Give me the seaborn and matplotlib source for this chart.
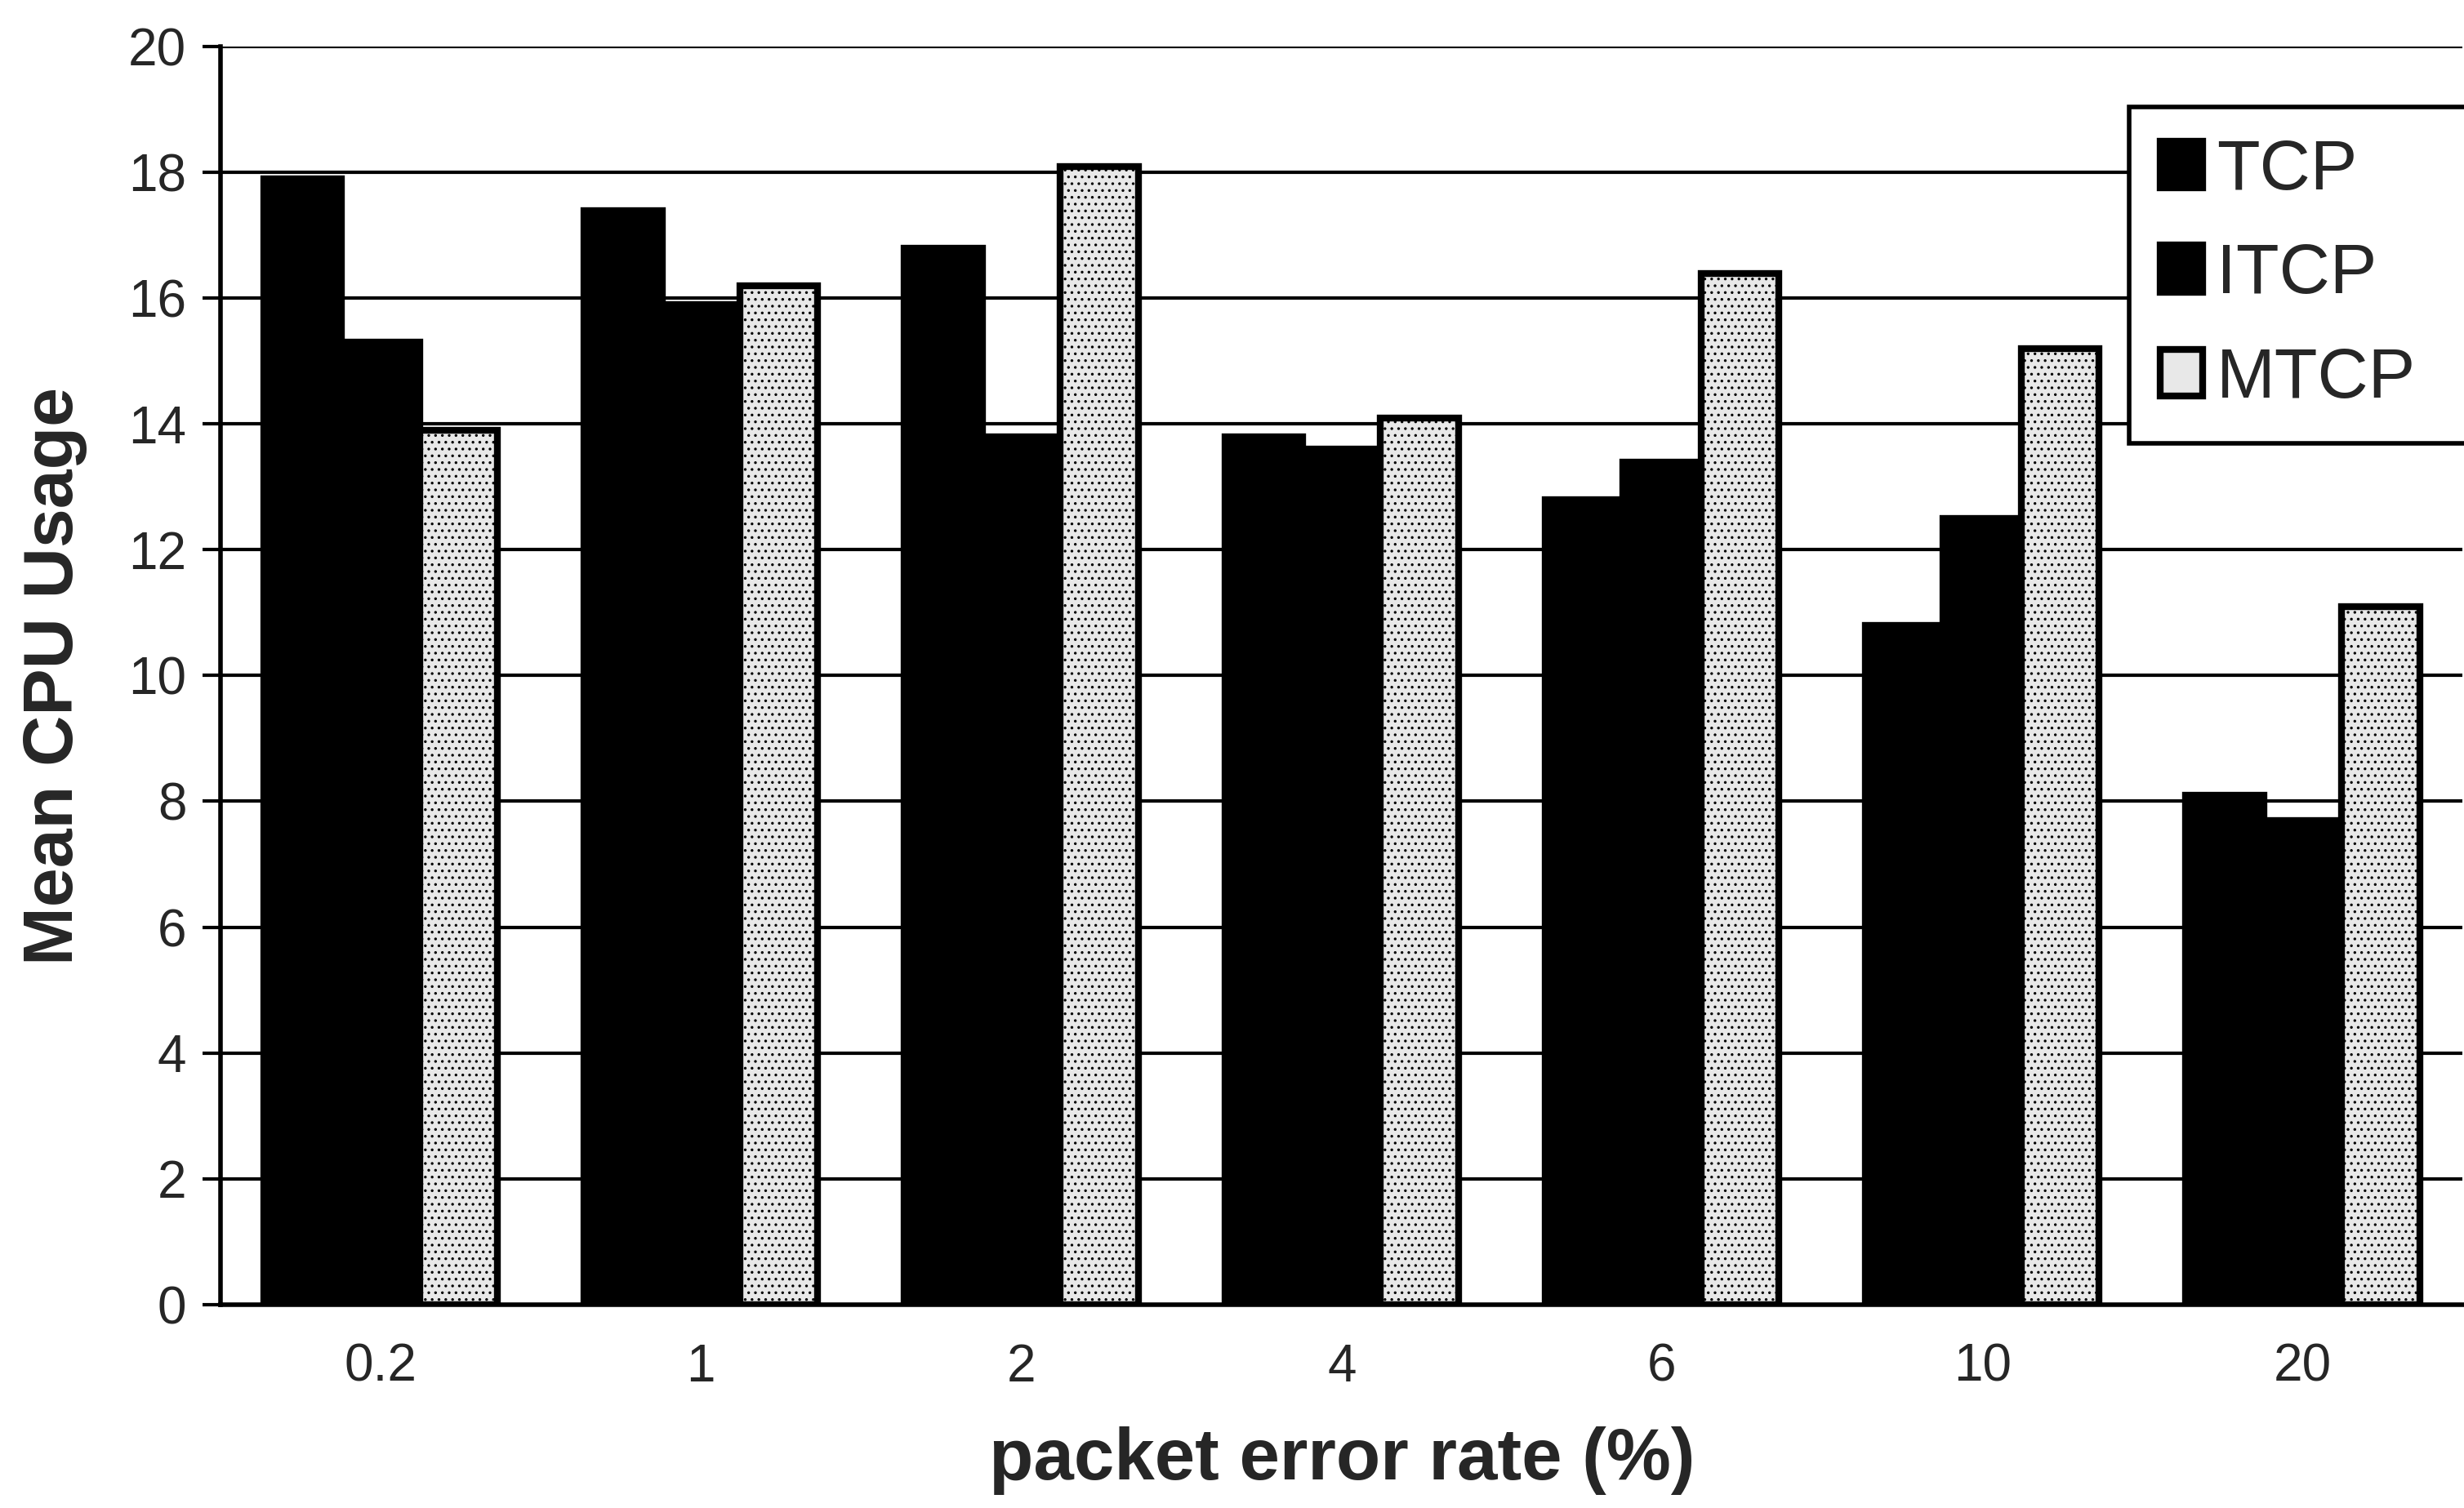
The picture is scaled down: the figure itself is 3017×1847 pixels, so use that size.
import matplotlib
matplotlib.use("Agg")
import matplotlib.pyplot as plt
import seaborn as sns
import pandas as pd
from matplotlib.patches import Patch

categories = ["0.2", "1", "2", "4", "6", "10", "20"]
tcp = [17.9, 17.4, 16.8, 13.8, 12.8, 10.8, 8.1]
itcp = [15.3, 15.9, 13.8, 13.6, 13.4, 12.5, 7.7]
mtcp = [13.9, 16.2, 18.1, 14.1, 16.4, 15.2, 11.1]
series = ["TCP", "ITCP", "MTCP"]
colors = ["#000000", "#000000", "#e8e8e8"]

df = pd.DataFrame({
    "rate": categories * 3,
    "value": tcp + itcp + mtcp,
    "protocol": sum([[s] * len(categories) for s in series], []),
})

sns.set_theme(style="white")
plt.rcParams["font.family"] = ["Liberation Sans", "DejaVu Sans"]
plt.rcParams["hatch.linewidth"] = 1.2
plt.rcParams["hatch.color"] = "#666666"

fig = plt.figure(figsize=(30.17, 18.47), dpi=100)
ax = fig.add_axes([0.0895, 0.135, 0.91, 0.834])

sns.barplot(data=df, x="rate", y="value", hue="protocol", order=categories,
            hue_order=series, palette=colors, width=0.73, ax=ax,
            edgecolor="black", linewidth=6, saturation=1, errorbar=None)

for bar in ax.containers[2]:
    bar.set_hatch("..")

ax.set_ylim(0, 20)
ax.set_xlim(-0.5, 6.5)
ax.set_yticks(range(0, 21, 2))
ax.yaxis.grid(True, color="black", linewidth=3)
ax.set_axisbelow(True)
for s in ["right", "top"]:
    ax.spines[s].set_visible(False)
for s in ["left", "bottom"]:
    ax.spines[s].set_color("black")
    ax.spines[s].set_linewidth(4)

ax.set_xticks(range(len(categories)))
ax.set_xticklabels(categories)
ax.set_xticks([i - 0.5 for i in range(1, len(categories) + 1)], minor=True)
ax.tick_params(axis="x", which="major", length=0, pad=34, labelsize=46)
ax.tick_params(axis="x", which="minor", length=14, width=3, direction="out", color="black")
ax.tick_params(axis="y", which="major", length=16, width=3, direction="out",
               color="black", pad=14, labelsize=46, left=True)

ax.set_xlabel("packet error rate (%)", fontsize=64, fontweight="bold", labelpad=30)
ax.set_ylabel("Mean CPU Usage", fontsize=62, fontweight="bold", labelpad=36)

if ax.get_legend() is not None:
    ax.get_legend().remove()
handles = [Patch(facecolor=c, edgecolor="black", linewidth=6) for c in colors]
leg = fig.legend(handles, series, loc="upper left",
                 bbox_to_anchor=(0.864, 0.729, 0.2, 0.2), mode="expand",
                 fontsize=62, frameon=True, fancybox=False, handlelength=0.6,
                 handleheight=0.65, handletextpad=0.2, labelspacing=0.55,
                 borderpad=0.45, borderaxespad=0)
leg.get_frame().set_edgecolor("black")
leg.get_frame().set_linewidth(4)
leg.get_frame().set_facecolor("white")
leg.get_frame().set_alpha(1)

fig.savefig("out.png", dpi=100)
